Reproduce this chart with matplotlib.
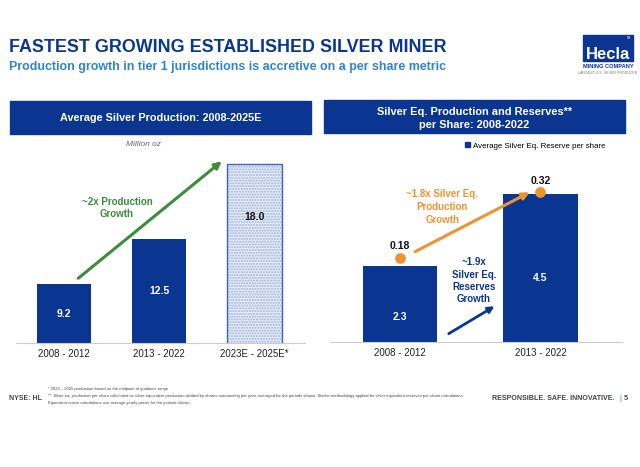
# Hecla slide: average silver production + per-share production/reserves
import matplotlib
matplotlib.use("Agg")
import matplotlib.pyplot as plt
from matplotlib.patches import Rectangle

plt.rcParams["font.family"] = ["Liberation Sans", "DejaVu Sans"]

# data
prod_periods = ["2008 - 2012", "2013 - 2022", "2023E - 2025E*"]
prod_values = [9.2, 12.5, 18.0]

share_periods = ["2008 - 2012", "2013 - 2022"]
reserve_per_share = [2.3, 4.5]
production_per_share = [0.18, 0.32]

BLUE = "#0a3691"
LBLUE = "#2f85c6"
ORANGE = "#ef9331"
GREEN = "#3b8d3b"
GREY = "#444444"

W, H = 640, 467
fig = plt.figure(figsize=(6.4, 4.67), dpi=100)


def px_rect(x0, y0, x1, y1):
    # pixel box (top-left origin) -> figure fraction rect
    return [x0 / W, 1 - y1 / H, (x1 - x0) / W, (y1 - y0) / H]


def fx(x):
    return x / W


def fy(y):
    return 1 - y / H


# title block
fig.text(fx(9), fy(48), "FASTEST GROWING ESTABLISHED SILVER MINER", color=BLUE,
         fontsize=12.9, fontweight="bold", va="center")
fig.text(fx(9), fy(67), "Production growth in tier 1 jurisdictions is accretive on a per share metric",
         color=LBLUE, fontsize=8.95, fontweight="bold", va="center")

# logo
fig.patches.append(Rectangle((fx(583), fy(61)), 50 / W, 26 / H,
                             transform=fig.transFigure, color=BLUE))
fig.text(fx(608), fy(54.5), "Hecla", color="white", fontsize=12, fontweight="bold",
         ha="center", va="center")
fig.text(fx(631), fy(38), "TM", color="white", fontsize=2, ha="right", va="center")
fig.text(fx(608), fy(67), "MINING COMPANY", color=BLUE, fontsize=4.1,
         fontweight="bold", ha="center", va="center")
fig.text(fx(608), fy(73), "LARGEST U.S. SILVER PRODUCER", color="#777777", fontsize=2.6,
         ha="center", va="center")

# panel headers
fig.patches.append(Rectangle((fx(10), fy(134)), 301 / W, 33 / H,
                             transform=fig.transFigure, color=BLUE))
fig.text(fx(160.5), fy(118), "Average Silver Production: 2008-2025E", color="white",
         fontsize=7.85, fontweight="bold", ha="center", va="center")
fig.patches.append(Rectangle((fx(324), fy(133)), 301 / W, 33 / H,
                             transform=fig.transFigure, color=BLUE))
fig.text(fx(474.5), fy(118.5), "Silver Eq. Production and Reserves**\nper Share: 2008-2022",
         color="white", fontsize=7.9, fontweight="bold", ha="center", va="center",
         linespacing=1.4)

# ---- left chart
ax1 = fig.add_axes(px_rect(16, 150, 305, 343))
x1 = list(range(len(prod_values)))
ax1.bar(x1[:2], prod_values[:2], width=0.57, color=BLUE)
ax1.bar(x1[2], prod_values[2], width=0.57, color="#e6ecf7", edgecolor="#9fb2da",
        hatch="......", linewidth=0)
ax1.bar(x1[2], prod_values[2], width=0.57, fill=False, edgecolor="#3a66c0", linewidth=1.0)
ax1.set_xlim(-0.5, 2.53)
ax1.set_ylim(4.9, 19.0)
ax1.set_yticks([])
ax1.set_xticks(x1)
ax1.set_xticklabels(prod_periods, fontsize=7, color="#222222")
ax1.tick_params(axis="x", length=0, pad=4.5)
for s in ["top", "right", "left"]:
    ax1.spines[s].set_visible(False)
ax1.spines["bottom"].set_color("#cccccc")
for i, v in enumerate(prod_values[:2]):
    ax1.text(i, (v + 4.9) / 2, f"{v:.1f}", color="white", fontsize=7.5,
             fontweight="bold", ha="center", va="center")
ax1.text(2, prod_values[2] * 0.785, f"{prod_values[2]:.1f}", color="#111111", fontsize=7.5,
         fontweight="bold", ha="center", va="center")
ax1.annotate("", xy=(1.68, 18.3), xytext=(0.13, 9.5),
             arrowprops=dict(arrowstyle="-|>", color=GREEN, lw=2.2, mutation_scale=10))
ax1.text(0.56, 14.75, "~2x Production\nGrowth", color=GREEN, fontsize=7,
         fontweight="bold", ha="center", va="center", linespacing=1.25)
fig.text(fx(144), fy(144), "Million oz", color="#666666", fontsize=6,
         style="italic", ha="center", va="center")

# ---- right chart
ax2 = fig.add_axes(px_rect(330, 150, 622, 342))
x2 = list(range(len(reserve_per_share)))
ax2.bar(x2, reserve_per_share, width=0.53, color=BLUE,
        label="Average Silver Eq. Reserve per share")
ax2.set_xlim(-0.498, 1.58)
ax2.set_ylim(0, 192 / 32.9)
ax2.set_yticks([])
ax2.set_xticks(x2)
ax2.set_xticklabels(share_periods, fontsize=7, color="#222222")
ax2.tick_params(axis="x", length=0, pad=4.5)
for s in ["top", "right", "left"]:
    ax2.spines[s].set_visible(False)
ax2.spines["bottom"].set_color("#cccccc")
ax2.text(0, reserve_per_share[0] * 0.33, f"{reserve_per_share[0]:.1f}", color="white",
         fontsize=7.5, fontweight="bold", ha="center", va="center")
ax2.text(1, reserve_per_share[1] * 0.43, f"{reserve_per_share[1]:.1f}", color="white",
         fontsize=7.5, fontweight="bold", ha="center", va="center")

tw = ax2.twinx()
tw.set_ylim(0, 192 / 468.75)
tw.set_xlim(ax2.get_xlim())
tw.axis("off")
tw.scatter(x2, production_per_share, s=45, color=ORANGE, zorder=5)
for i, v in enumerate(production_per_share):
    tw.annotate(f"{v:.2f}", (i, v), xytext=(0, 4.5), textcoords="offset points",
                fontsize=7.5, fontweight="bold", color="#111111", ha="center", va="bottom")
tw.annotate("", xy=(0.94, 0.322), xytext=(0.09, 0.19),
            arrowprops=dict(arrowstyle="-|>", color=ORANGE, lw=2.2, mutation_scale=10))
tw.text(0.30, 0.288, "~1.8x Silver Eq.\nProduction\nGrowth", color=ORANGE, fontsize=7,
        fontweight="bold", ha="center", va="center", linespacing=1.35)

ax2.annotate("", xy=(0.69, 1.13), xytext=(0.33, 0.21),
             arrowprops=dict(arrowstyle="-|>", color=BLUE, lw=2.0, mutation_scale=9))
ax2.text(0.527, 1.86, "~1.9x\nSilver Eq.\nReserves\nGrowth", color=BLUE, fontsize=7,
         fontweight="bold", ha="center", va="center", linespacing=1.3)

ax2.legend(handles=[Rectangle((0, 0), 1, 1, color=BLUE)],
           labels=["Average Silver Eq. Reserve per share"],
           loc="center right", bbox_to_anchor=(fx(609), fy(146)),
           bbox_transform=fig.transFigure, frameon=False, fontsize=5.7,
           handlelength=0.6, handleheight=0.6, handletextpad=0.4, borderpad=0)

# footer
fig.text(fx(9), fy(399), "NYSE: HL", color=GREY, fontsize=5, fontweight="bold", va="center")
notes = ["* 2023 \u2013 2025 production based on the midpoint of guidance range",
         "**  Silver eq. production per share calculated as silver equivalent production divided by "
         "shares outstanding per year, averaged for the periods shown. Similar methodology applied "
         "for silver equivalent reserves per share calculations.",
         "Equivalent ounce calculations use average yearly prices for the periods shown."]
for k, t in enumerate(notes):
    fig.text(fx(48), fy(389 + 7 * k), t, color=GREY, fontsize=2.95, va="center")
fig.text(fx(615), fy(399), "RESPONSIBLE. SAFE. INNOVATIVE.", color=GREY, fontsize=5.1,
         fontweight="bold", ha="right", va="center")
fig.text(fx(620), fy(399), "|", color=LBLUE, fontsize=5.5, ha="center", va="center")
fig.text(fx(626), fy(399), "5", color=GREY, fontsize=5.1, fontweight="bold", ha="center",
         va="center")

fig.savefig("out.png", dpi=100)
